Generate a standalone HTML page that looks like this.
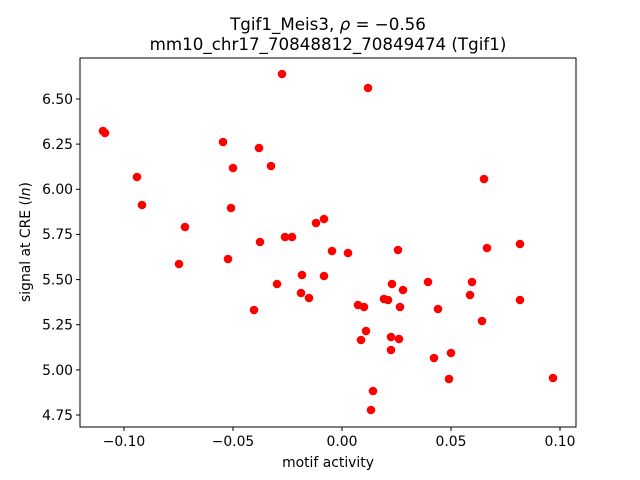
<!DOCTYPE html>
<html><head><meta charset="utf-8"><style>body{margin:0;background:#fff}svg{display:block}text{font-family:"DejaVu Sans","Liberation Sans",sans-serif;fill:#000}</style></head>
<body>
<svg width="640" height="480" viewBox="0 0 640 480" xmlns="http://www.w3.org/2000/svg">
<rect width="640" height="480" fill="#fff"/>
<g fill="#ff0000">
<circle cx="103" cy="131" r="4.3"/><circle cx="105" cy="133" r="4.3"/><circle cx="282" cy="74" r="4.3"/><circle cx="223" cy="142" r="4.3"/><circle cx="259" cy="148" r="4.3"/><circle cx="233" cy="168" r="4.3"/><circle cx="271" cy="166" r="4.3"/><circle cx="137" cy="177" r="4.3"/><circle cx="142" cy="205" r="4.3"/><circle cx="231" cy="208" r="4.3"/><circle cx="185" cy="227" r="4.3"/><circle cx="316" cy="223" r="4.3"/><circle cx="324" cy="219" r="4.3"/><circle cx="260" cy="242" r="4.3"/><circle cx="285" cy="237" r="4.3"/><circle cx="292" cy="237" r="4.3"/><circle cx="179" cy="264" r="4.3"/><circle cx="228" cy="259" r="4.3"/><circle cx="302" cy="275" r="4.3"/><circle cx="324" cy="276" r="4.3"/><circle cx="277" cy="284" r="4.3"/><circle cx="301" cy="293" r="4.3"/><circle cx="309" cy="298" r="4.3"/><circle cx="254" cy="310" r="4.3"/>
<circle cx="368" cy="88" r="4.3"/><circle cx="484" cy="179" r="4.3"/><circle cx="332" cy="251" r="4.3"/><circle cx="348" cy="253" r="4.3"/><circle cx="398" cy="250" r="4.3"/><circle cx="487" cy="248" r="4.3"/><circle cx="520" cy="244" r="4.3"/><circle cx="392" cy="284" r="4.3"/><circle cx="403" cy="290" r="4.3"/><circle cx="428" cy="282" r="4.3"/><circle cx="472" cy="282" r="4.3"/><circle cx="470" cy="295" r="4.3"/><circle cx="520" cy="300" r="4.3"/><circle cx="384" cy="299" r="4.3"/><circle cx="388" cy="300" r="4.3"/><circle cx="358" cy="305" r="4.3"/><circle cx="364" cy="307" r="4.3"/><circle cx="400" cy="307" r="4.3"/><circle cx="438" cy="309" r="4.3"/><circle cx="482" cy="321" r="4.3"/><circle cx="366" cy="331" r="4.3"/><circle cx="361" cy="340" r="4.3"/><circle cx="391" cy="337" r="4.3"/><circle cx="399" cy="339" r="4.3"/><circle cx="391" cy="350" r="4.3"/><circle cx="434" cy="358" r="4.3"/><circle cx="451" cy="353" r="4.3"/><circle cx="449" cy="379" r="4.3"/><circle cx="553" cy="378" r="4.3"/><circle cx="373" cy="391" r="4.3"/><circle cx="371" cy="410" r="4.3"/>
</g>
<rect x="80" y="58" width="496" height="369" fill="none" stroke="#000" stroke-width="1"/>
<g stroke="#000" stroke-width="1">
<line x1="124" y1="427" x2="124" y2="431"/><line x1="233" y1="427" x2="233" y2="431"/><line x1="342" y1="427" x2="342" y2="431"/><line x1="451" y1="427" x2="451" y2="431"/><line x1="560" y1="427" x2="560" y2="431"/>
<line x1="76" y1="99" x2="80" y2="99"/><line x1="76" y1="144.1" x2="80" y2="144.1"/><line x1="76" y1="189.3" x2="80" y2="189.3"/><line x1="76" y1="234.4" x2="80" y2="234.4"/><line x1="76" y1="279.6" x2="80" y2="279.6"/><line x1="76" y1="324.7" x2="80" y2="324.7"/><line x1="76" y1="369.9" x2="80" y2="369.9"/><line x1="76" y1="415" x2="80" y2="415"/>
</g>
<g font-size="13.9" text-anchor="middle">
<text x="124" y="446">−0.10</text><text x="233" y="446">−0.05</text><text x="342" y="446">0.00</text><text x="451" y="446">0.05</text><text x="560" y="446">0.10</text>
</g>
<g font-size="13.9" text-anchor="end">
<text x="73" y="104">6.50</text><text x="73" y="149">6.25</text><text x="73" y="194">6.00</text><text x="73" y="239">5.75</text><text x="73" y="284.5">5.50</text><text x="73" y="329.5">5.25</text><text x="73" y="375">5.00</text><text x="73" y="420">4.75</text>
</g>
<text x="328" y="467" font-size="13.9" text-anchor="middle">motif activity</text>
<text transform="translate(30,242) rotate(-90)" font-size="13.9" text-anchor="middle">signal at CRE (<tspan font-style="italic">ln</tspan>)</text>
<text x="328" y="30" font-size="16.7" text-anchor="middle">Tgif1_Meis3, <tspan font-style="italic">ρ</tspan> = −0.56</text>
<text x="328" y="50" font-size="16.7" text-anchor="middle">mm10_chr17_70848812_70849474 (Tgif1)</text>
</svg>
</body></html>
